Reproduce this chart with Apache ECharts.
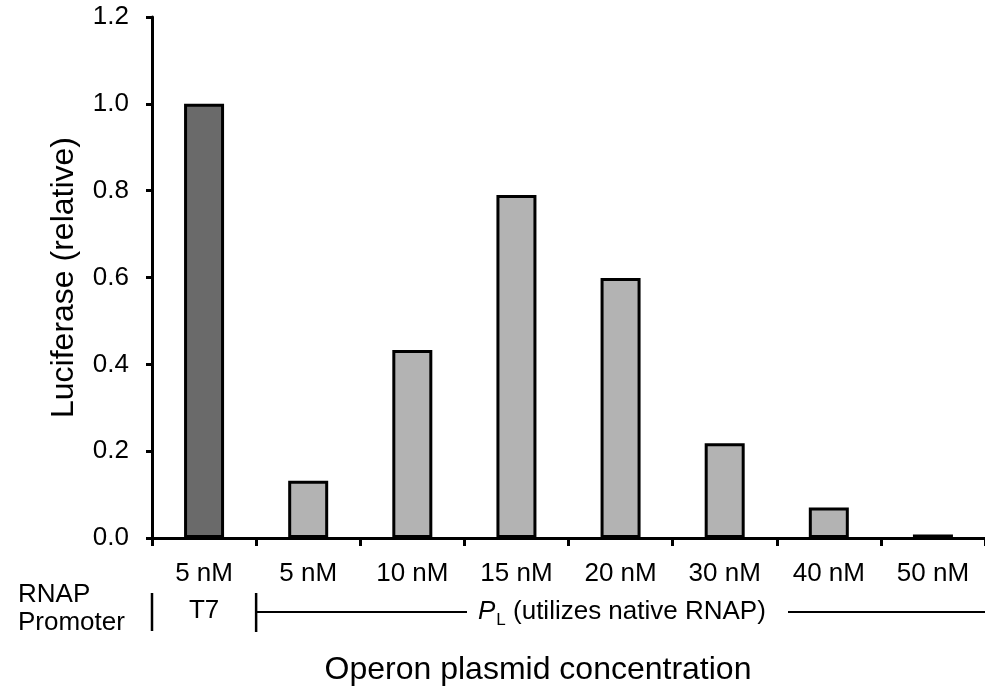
<!DOCTYPE html>
<html>
<head>
<meta charset="utf-8">
<script src="https://cdn.jsdelivr.net/npm/echarts@6/dist/echarts.min.js"></script>
<style>
html,body{margin:0;padding:0;background:#fff;}
#chart{width:985px;height:691px;}
</style>
</head>
<body>
<div id="chart"></div>
<script>
// ---- data ----
var categories = ['5 nM', '5 nM', '10 nM', '15 nM', '20 nM', '30 nM', '40 nM', '50 nM'];
var promoters = ['T7', 'PL', 'PL', 'PL', 'PL', 'PL', 'PL', 'PL'];
var luciferase = [1.0, 0.132, 0.433, 0.790, 0.599, 0.218, 0.070, 0.008];
var yTicks = [0, 0.2, 0.4, 0.6, 0.8, 1.0, 1.2];

var FONT = '"Liberation Sans", Arial, sans-serif';
var chart = echarts.init(document.getElementById('chart'), null, {renderer: 'canvas'});

var barData = luciferase.map(function (v, i) {
  return {
    value: v,
    itemStyle: {color: promoters[i] === 'T7' ? '#6a6a6a' : '#b3b3b3'}
  };
});

var option = {
  backgroundColor: '#ffffff',
  animation: false,
  textStyle: {fontFamily: FONT},
  grid: {left: 152, top: 17, bottom: 153, width: 836, containLabel: false},
  xAxis: {
    type: 'category',
    data: categories,
    boundaryGap: true,
    axisLine: {lineStyle: {color: '#000', width: 3}},
    axisTick: {show: true, length: 8, lineStyle: {color: '#000', width: 3}},
    axisLabel: {color: '#000', fontSize: 26, fontFamily: FONT, margin: 23, interval: 0}
  },
  yAxis: {
    type: 'value',
    min: yTicks[0],
    max: yTicks[yTicks.length - 1],
    interval: 0.2,
    name: 'Luciferase (relative)',
    nameLocation: 'middle',
    nameGap: 72,
    nameRotate: 90,
    nameTextStyle: {color: '#000', fontSize: 32, fontFamily: FONT},
    axisLine: {show: true, lineStyle: {color: '#000', width: 3}},
    axisTick: {show: true, length: 6, lineStyle: {color: '#000', width: 3}},
    splitLine: {show: false},
    axisLabel: {
      color: '#000', fontSize: 26, fontFamily: FONT, margin: 23,
      formatter: function (v) { return v.toFixed(1); }
    }
  },
  series: [{
    type: 'bar',
    data: barData,
    barWidth: 40,
    itemStyle: {borderColor: '#000', borderWidth: 3}
  }]
};
chart.setOption(option);

// annotations below the axis, positioned from the category scale
var c0 = chart.convertToPixel({xAxisIndex: 0}, 0);
var c1 = chart.convertToPixel({xAxisIndex: 0}, 1);
var band = c1 - c0;
var b0 = c0 - band / 2;
var b1 = c0 + band / 2;
var lineY = 612;

chart.setOption({
  graphic: [
    {type: 'text', left: 18, top: 582, style: {text: 'RNAP', fill: '#000', font: '26px ' + FONT}},
    {type: 'text', left: 18, top: 610, style: {text: 'Promoter', fill: '#000', font: '26px ' + FONT}},
    {type: 'line', shape: {x1: b0, y1: 593, x2: b0, y2: 631}, style: {stroke: '#000', lineWidth: 2.5}},
    {type: 'line', shape: {x1: b1, y1: 593, x2: b1, y2: 632}, style: {stroke: '#000', lineWidth: 2.5}},
    {type: 'text', x: c0, y: lineY - 1, style: {text: 'T7', fill: '#000', font: '26px ' + FONT, align: 'center', verticalAlign: 'middle'}},
    {type: 'line', shape: {x1: b1, y1: lineY, x2: 467, y2: lineY}, style: {stroke: '#000', lineWidth: 2}},
    {type: 'text', x: 478, y: lineY, style: {
      text: '{i|P}{s|L} (utilizes native RNAP)',
      fill: '#000', font: '26px ' + FONT, verticalAlign: 'middle', align: 'left',
      rich: {
        i: {fontStyle: 'italic', fontSize: 26, fontFamily: FONT, fill: '#000'},
        s: {fontSize: 17, fontFamily: FONT, fill: '#000', padding: [16, 0, 0, 1]}
      }
    }},
    {type: 'line', shape: {x1: 788, y1: lineY, x2: 985, y2: lineY}, style: {stroke: '#000', lineWidth: 2}},
    {type: 'text', x: 538, y: 670, style: {text: 'Operon plasmid concentration', fill: '#000', font: '32px ' + FONT, align: 'center', verticalAlign: 'middle'}}
  ]
});
</script>
</body>
</html>
